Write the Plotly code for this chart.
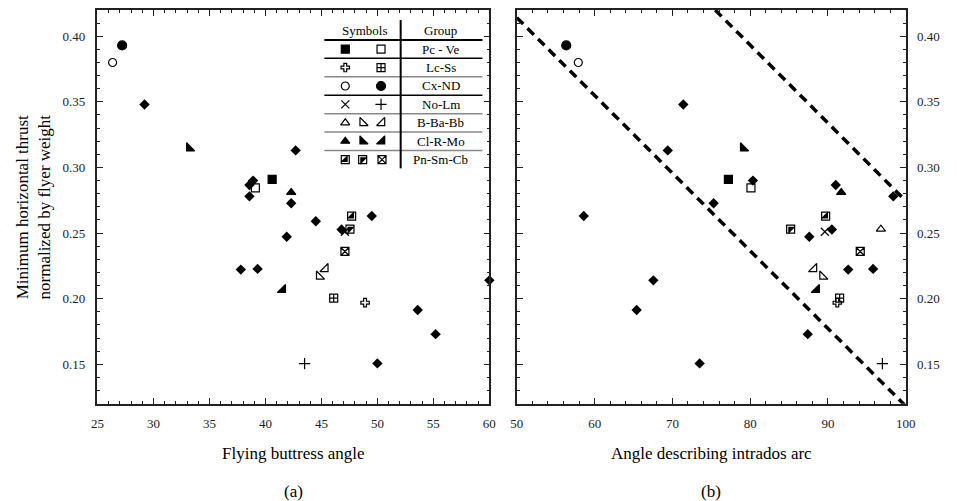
import plotly.graph_objects as go

W, H = 957, 501
OFF = 8  # page body margin
FW, FH = W - OFF, H - OFF
FONT = "Liberation Serif, Times New Roman, serif"

# one entry per named structure (legend groups), shared thrust for both panels
groups = ["Pc", "Ve", "Lc", "Ss", "Cx", "ND", "No", "Lm", "B", "Ba", "Bb",
          "Cl", "R", "Mo", "Pn", "Sm", "Cb"]
group_thrust = [0.291, 0.2845, 0.197, 0.2005, 0.380, 0.393, 0.251, 0.1505, 0.253,
                0.217, 0.2227, 0.281, 0.3147, 0.2068, 0.263, 0.253, 0.236]
group_buttress_angle = [40.6, 39.1, 48.9, 46.1, 26.35, 27.2, 47.1, 43.5, None,
                        44.8, 45.35, 42.3, 33.2, 41.55, 47.7, 47.55, 47.1]
group_intrados_angle = [77.2, 80.1, 91.2, 91.5, 57.9, 56.35, 89.6, 97.0, 96.8,
                        89.3, 88.2, 91.7, 79.1, 88.55, 89.7, 85.2, 94.15]

# unnamed structures (black diamonds)
other_thrust = [0.348, 0.313, 0.290, 0.2866, 0.278, 0.2727, 0.263, 0.2527, 0.2472,
                0.2222, 0.2227, 0.214, 0.1914, 0.173, 0.1507, 0.259]
other_buttress_angle = [29.2, 42.7, 38.9, 38.57, 38.57, 42.3, 49.5, 46.8, 41.9,
                        37.8, 39.3, 60.0, 53.6, 55.2, 50.0, 44.5]
other_intrados_angle = [71.4, 69.4, 80.35, 91.0, 98.4, 75.3, 58.6, 90.5, 87.6,
                        92.6, 95.8, 67.55, 65.4, 87.4, 73.5, None]

# dashed bounds in panel (b)
bound_low_x = [50, 100]
bound_low_y = [0.4141, 0.1181]
bound_high_x = [75.5, 100]
bound_high_y = [0.42, 0.2745]

row_labels = ["Pc - Ve", "Lc-Ss", "Cx-ND", "No-Lm", "B-Ba-Bb", "Cl-R-Mo", "Pn-Sm-Cb"]
row_sizes = [2, 2, 2, 2, 3, 3, 3]

# marker style per group: (symbol, size, half-fill overlay)
styles = {
    "Pc": ("square", 8, None), "Ve": ("square-open", 8, None),
    "Lc": ("cross-open", 7, None), "Ss": ("square-cross-open", 8, None),
    "Cx": ("circle-open", 8, None), "ND": ("circle", 9, None),
    "No": ("x-thin-open", 8, None), "Lm": ("cross-thin-open", 8, None),
    "B": ("triangle-up-open", 8, None), "Ba": ("triangle-sw-open", 9, None),
    "Bb": ("triangle-se-open", 9, None), "Cl": ("triangle-up", 8, None),
    "R": ("triangle-sw", 9, None), "Mo": ("triangle-se", 9, None),
    "Pn": ("square-open", 8, "triangle-se"), "Sm": ("square-open", 8, "triangle-nw"),
    "Cb": ("square-x-open", 8, None),
}

# layout in screen pixels
XA = (92, 491)
XB = (519, 915)
YT, YB = 8, 403.3


def px(x):
    return (x - OFF) / FW


def py(y):
    return 1 - (y - OFF) / FH


fig = go.Figure()


def add_marks(xs, ys, name, xa, ya):
    sym, size, half = styles[name]
    fig.add_trace(go.Scatter(
        x=xs, y=ys, mode="markers", xaxis=xa, yaxis=ya, showlegend=False,
        cliponaxis=False,
        marker=dict(symbol=sym, size=size, color="black",
                    line=dict(color="black", width=1.2)),
    ))
    if half:
        fig.add_trace(go.Scatter(
            x=xs, y=ys, mode="markers", xaxis=xa, yaxis=ya, showlegend=False,
            cliponaxis=False,
            marker=dict(symbol=half, size=8, color="black", line=dict(width=0)),
        ))


def label(txt, xc, yc, size, angle=0):
    fig.add_annotation(x=px(xc), y=py(yc), xref="paper", yref="paper", text=txt,
                       xanchor="center", yanchor="middle", textangle=angle,
                       showarrow=False, font=dict(size=size, family=FONT, color="black"))


for i, g in enumerate(groups):
    add_marks([group_buttress_angle[i]], [group_thrust[i]], g, "x", "y")
    add_marks([group_intrados_angle[i]], [group_thrust[i]], g, "x2", "y2")

for xs, xa, ya in [(other_buttress_angle, "x", "y"), (other_intrados_angle, "x2", "y2")]:
    fig.add_trace(go.Scatter(
        x=xs, y=other_thrust, mode="markers", xaxis=xa, yaxis=ya, showlegend=False,
        cliponaxis=False,
        marker=dict(symbol="diamond", size=8, color="black", line=dict(width=0)),
    ))

for bx, by in [(bound_low_x, bound_low_y), (bound_high_x, bound_high_y)]:
    fig.add_trace(go.Scatter(
        x=bx, y=by, mode="lines", xaxis="x2", yaxis="y2", showlegend=False,
        line=dict(color="black", width=3.5, dash="9px,6px"),
    ))

# symbol table inside panel (a)
T_LEFT, T_RIGHT, T_MID = 323, 484, 400.7
T_HEAD, T_ROW0, T_STEP = 29, 47.3, 18.5
col2 = [344.3, 380.7]
col3 = [344.3, 362.0, 381.7]
line_cols = ["black", "black", "#888", "black", "#888", "#888", "#888"]

gi = 0
for r, (lab, n) in enumerate(zip(row_labels, row_sizes)):
    yc = T_ROW0 + r * T_STEP
    cols = col2 if n == 2 else col3
    for c in range(n):
        add_marks([cols[c]], [yc], groups[gi], "x3", "y3")
        gi += 1
    label(lab, 441.7, yc, 13)
    ly = yc - T_STEP / 2
    fig.add_shape(type="line", xref="paper", yref="paper",
                  x0=px(T_LEFT), x1=px(T_RIGHT), y0=py(ly), y1=py(ly),
                  line=dict(color=line_cols[r], width=2 if r == 0 else 1.5))

fig.add_shape(type="line", xref="paper", yref="paper",
              x0=px(T_MID), x1=px(T_MID), y0=py(18), y1=py(167),
              line=dict(color="black", width=2))
label("Symbols", 364, T_HEAD, 13)
label("Group", 441.7, T_HEAD, 13)

# titles
label("Flying buttress angle", sum(XA) / 2, 453, 17)
label("Angle describing intrados arc", sum(XB) / 2, 453, 17)
label("(a)", sum(XA) / 2, 491, 17)
label("(b)", sum(XB) / 2, 491, 17)
label("Minimum horizontal thrust<br>normalized by flyer weight", 27, (YT + YB) / 2, 17, -90)

axis_common = dict(
    showline=True, linecolor="#222", linewidth=1.5, mirror="ticks",
    ticks="inside", ticklen=6, tickwidth=1.2, tickcolor="#222",
    showgrid=False, zeroline=False,
    tickfont=dict(size=13, family=FONT, color="#222"),
)
minor_common = dict(ticks="inside", ticklen=3, tickwidth=1.2, tickcolor="#222", showgrid=False)
ydomain = [py(YB), py(YT)]

fig.update_layout(
    width=FW, height=FH,
    margin=dict(l=0, r=0, t=0, b=0),
    paper_bgcolor="white", plot_bgcolor="rgba(0,0,0,0)",
    showlegend=False,
    xaxis=dict(domain=[px(XA[0]), px(XA[1])], range=[25, 60], dtick=5, tick0=25,
               anchor="y", ticklabelstandoff=7,
               minor=dict(dtick=1, **minor_common), **axis_common),
    yaxis=dict(domain=ydomain, range=[0.12, 0.42], dtick=0.05, tick0=0.15,
               tickformat=".2f", anchor="x", ticklabelstandoff=8,
               minor=dict(dtick=0.01, **minor_common), **axis_common),
    xaxis2=dict(domain=[px(XB[0]), px(XB[1])], range=[50, 100], dtick=10, tick0=50,
                anchor="y2", ticklabelstandoff=7,
                minor=dict(dtick=2, **minor_common), **axis_common),
    yaxis2=dict(domain=ydomain, range=[0.12, 0.42], dtick=0.05, tick0=0.15,
                tickformat=".2f", anchor="x2", side="right", ticklabelstandoff=7,
                minor=dict(dtick=0.01, **minor_common), **axis_common),
    xaxis3=dict(domain=[0, 1], range=[OFF, W], visible=False, anchor="y3"),
    yaxis3=dict(domain=[0, 1], range=[H, OFF], visible=False, anchor="x3"),
)

fig.write_html("out.html")
